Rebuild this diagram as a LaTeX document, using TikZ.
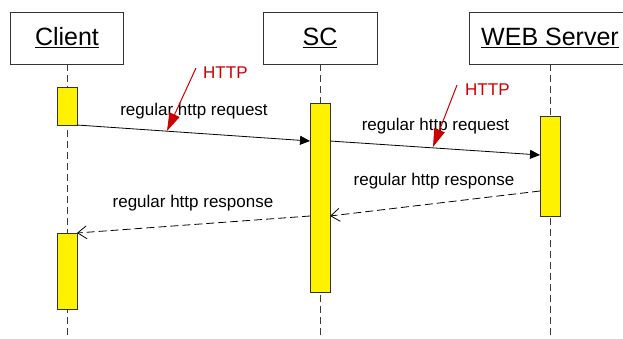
\documentclass[tikz,border=0pt]{standalone}
\usepackage{fontspec}
\setmainfont{Liberation Sans}
\usetikzlibrary{arrows.meta}
\definecolor{httpred}{RGB}{204,0,0}
\definecolor{lifegray}{RGB}{60,60,60}
\begin{document}
\begin{tikzpicture}[x=1bp,y=-1bp,
  head/.style={draw=black!80,line width=0.8bp,fill=white,minimum height=52bp,inner sep=0pt,
     font=\fontsize{25bp}{28bp}\selectfont},
  act/.style={draw=black!80,line width=0.8bp,fill=yellow,minimum width=20bp,inner sep=0pt},
  life/.style={lifegray,line width=1bp,dash pattern=on 7bp off 4bp},
  lbl/.style={font=\fontsize{17bp}{20bp}\selectfont,anchor=base,inner sep=0pt},
  msg/.style={line width=0.8bp,-{Triangle[length=10bp,width=9bp]}},
  ret/.style={line width=0.8bp,dash pattern=on 8bp off 4bp,-{Straight Barb[length=9bp,width=13bp,line width=0.8bp]}},
  httparr/.style={httpred,line width=1bp,-{Triangle[length=18bp,width=11bp]}},
  httptxt/.style={httpred,font=\fontsize{17bp}{20bp}\selectfont,anchor=base west,inner sep=0pt}]
\useasboundingbox (0,0) rectangle (623,338);
\clip (0,0) rectangle (623,338);
% lifelines
\coordinate (cbot) at (67,340);
\coordinate (sbot) at (320,340);
\coordinate (wbot) at (550,340);
\node[head,minimum width=113bp] (client) at (67,38) {\underline{Client}};
\node[head,minimum width=114bp] (sc) at (320,38) {\underline{SC}};
\node[head,minimum width=162bp] (web) at (550,38) {\underline{WEB Server}};
\draw[life] (client.south) -- (cbot);
\draw[life] (sc.south) -- (sbot);
\draw[life] (web.south) -- (wbot);
% activations
\node[act,minimum height=38bp] (ca1) at (67,106) {};
\node[act,minimum height=76bp] (ca2) at (67,271) {};
\node[act,minimum height=189bp] (sca) at (320,197.5) {};
\node[act,minimum height=100bp] (wa) at (550,166) {};
% message points
\coordinate (m1a) at (77,125);
\coordinate (m1b) at (310,141);
\coordinate (m2a) at (330,141);
\coordinate (m2b) at (540,155);
\coordinate (m3a) at (540,191);
\coordinate (m3b) at (330,216);
\coordinate (m4a) at (310,216);
\coordinate (m4b) at (77,233);
\draw[msg] (m1a) -- (m1b);
\draw[msg] (m2a) -- (m2b);
\draw[ret] (m3a) -- (m3b);
\draw[ret] (m4a) -- (m4b);
\node[lbl] (l1) at (194,115) {regular http request};
\node[lbl] (l2) at (435.5,130) {regular http request};
\node[lbl] (l3) at (434,185) {regular http response};
\node[lbl] (l4) at (193,207) {regular http response};
% HTTP notes
\coordinate (h1a) at (196,68);
\coordinate (h1b) at (167,131);
\coordinate (h2a) at (457,85);
\coordinate (h2b) at (433,147);
\draw[httparr] (h1a) -- (h1b);
\draw[httparr] (h2a) -- (h2b);
\node[httptxt] (t1) at (203,78) {HTTP};
\node[httptxt] (t2) at (465,95) {HTTP};
\end{tikzpicture}
\end{document}
